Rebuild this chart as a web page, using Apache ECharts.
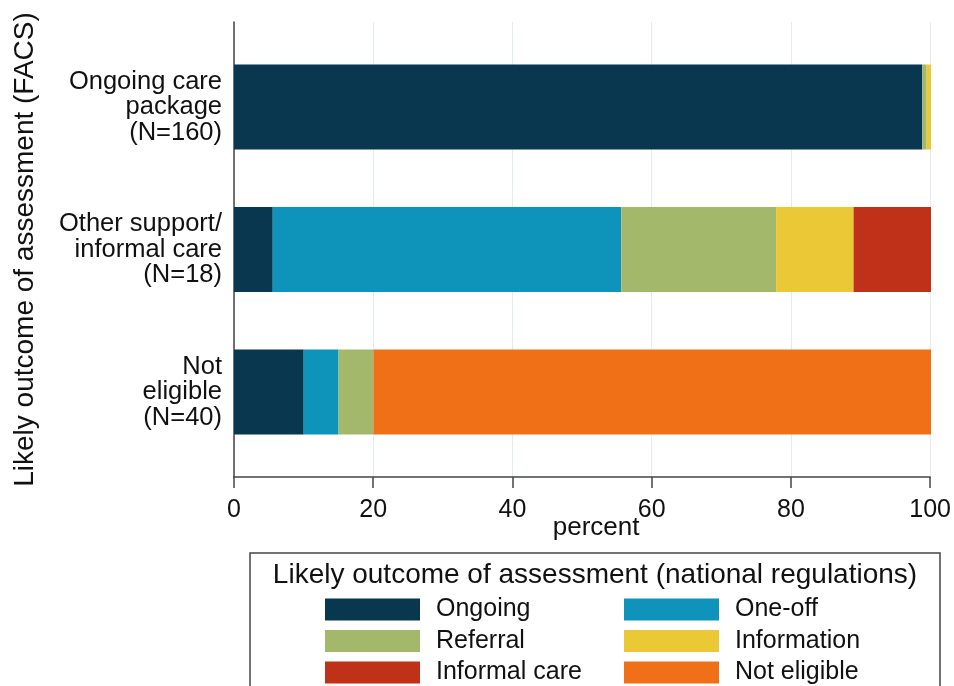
<!DOCTYPE html>
<html>
<head>
<meta charset="utf-8">
<script src="https://cdn.jsdelivr.net/npm/echarts@6/dist/echarts.min.js"></script>
<style>
html,body{margin:0;padding:0;background:#fff;}
#chart{width:954px;height:686px;}
</style>
</head>
<body>
<div id="chart"></div>
<script>
// ---- data ----
const categories = ['Ongoing care\npackage\n(N=160)', 'Other support/\ninformal care\n(N=18)', 'Not\neligible\n(N=40)'];
const seriesNames = ['Ongoing', 'One-off', 'Referral', 'Information', 'Informal care', 'Not eligible'];
const ongoing      = [98.75, 5.56, 10];
const oneOff       = [0, 50.0, 5];
const referral     = [0.625, 22.22, 5];
const information  = [0.625, 11.11, 0];
const informalCare = [0, 11.11, 0];
const notEligible  = [0, 0, 80];
const xTicks = [0, 20, 40, 60, 80, 100];
const xTitle = 'percent';
const yTitle = 'Likely outcome of assessment (FACS)';
const legendTitle = 'Likely outcome of assessment (national regulations)';

const colors = ['#08374f', '#0e93bb', '#a3b86b', '#ebc936', '#c0311a', '#f07018'];
const values = [ongoing, oneOff, referral, information, informalCare, notEligible];
const FONT = '"Liberation Sans", Arial, sans-serif';

const chart = echarts.init(document.getElementById('chart'), null, {renderer: 'canvas'});
const legendBase = {
  orient: 'vertical', top: 597, padding: 0, height: 120, width: 300,
  itemWidth: 95, itemHeight: 22, itemGap: 6.5,
  icon: 'rect',
  textStyle: {fontFamily: FONT, fontSize: 25, color: '#111', lineHeight: 22, padding: [0, 0, 0, 11]}
};
const option = {
  animation: false,
  backgroundColor: '#fff',
  textStyle: {fontFamily: FONT},
  title: {
    text: legendTitle,
    left: 595, top: 561,
    textAlign: 'center',
    padding: 0,
    textStyle: {fontFamily: FONT, fontSize: 28, fontWeight: 'normal', color: '#111'}
  },
  graphic: [{
    type: 'rect', silent: true,
    shape: {x: 250, y: 553, width: 690, height: 200},
    style: {fill: 'none', stroke: '#444', lineWidth: 1.5}
  }],
  legend: [
    Object.assign({}, legendBase, {data: ['Ongoing', 'Referral', 'Informal care'], left: 325}),
    Object.assign({}, legendBase, {data: ['One-off', 'Information', 'Not eligible'], left: 624})
  ],
  grid: [
    {left: 234, right: 23, top: 22, bottom: 209, containLabel: false},
    {left: 234, right: 23, top: 35.75, height: 427.5, containLabel: false}
  ],
  xAxis: [{
    gridIndex: 0, type: 'value', min: 0, max: 100, interval: 20,
    axisLine: {show: true, lineStyle: {color: '#444', width: 1.5}},
    axisTick: {show: true, length: 11, lineStyle: {color: '#444', width: 1.5}},
    axisLabel: {fontFamily: FONT, fontSize: 25, color: '#111', margin: 21,
      formatter: v => xTicks.includes(v) ? String(v) : ''},
    splitLine: {show: true, lineStyle: {color: '#e2ebee', width: 1}},
    name: xTitle, nameLocation: 'middle', nameGap: 38, nameMoveOverlap: false,
    nameTextStyle: {fontFamily: FONT, fontSize: 26, color: '#111', padding: [0, 0, 0, 28]}
  }, {
    gridIndex: 1, type: 'value', min: 0, max: 100, show: false
  }],
  yAxis: [{
    gridIndex: 0, type: 'value', min: 0, max: 1,
    axisLine: {show: true, lineStyle: {color: '#444', width: 1.5}},
    axisTick: {show: false}, axisLabel: {show: false}, splitLine: {show: false},
    name: yTitle, nameLocation: 'middle', nameRotate: 90, nameGap: 195, nameMoveOverlap: false,
    nameTextStyle: {fontFamily: FONT, fontSize: 28, color: '#111'}
  }, {
    gridIndex: 1, type: 'category', data: categories, inverse: true,
    axisLine: {show: false}, axisTick: {show: false}, splitLine: {show: false},
    axisLabel: {fontFamily: FONT, fontSize: 25.5, lineHeight: 25.5, color: '#111', margin: 12, align: 'right'}
  }],
  series: seriesNames.map((name, i) => ({
    name, type: 'bar', stack: 'total',
    xAxisIndex: 1, yAxisIndex: 1,
    barWidth: 85,
    itemStyle: {color: colors[i]},
    data: values[i]
  }))
};
chart.setOption(option);
</script>
</body>
</html>
